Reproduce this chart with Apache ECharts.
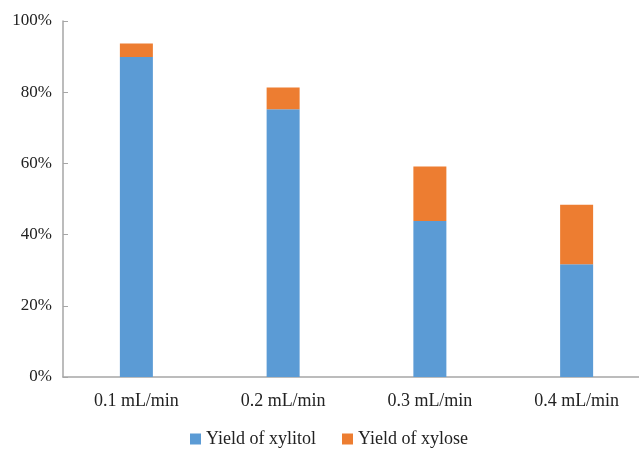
<!DOCTYPE html>
<html>
<head>
<meta charset="utf-8">
<script src="https://cdn.jsdelivr.net/npm/echarts@6/dist/echarts.min.js"></script>
<style>
  html, body { margin: 0; padding: 0; background: #fff; }
  #chart { width: 639px; height: 451px; }
</style>
</head>
<body>
<div id="chart"></div>
<script>
const categories = ["0.1 mL/min", "0.2 mL/min", "0.3 mL/min", "0.4 mL/min"];
const xylitolYield = [89.9, 75.2, 43.8, 31.7];
const xyloseYield = [3.8, 6.1, 15.3, 16.7];

const myChart = echarts.init(document.getElementById("chart"));
const font = "Liberation Serif";

const option = {
    animation: false,
    textStyle: {
        fontFamily: font
    },
    grid: {
        left: 63,
        width: 587,
        top: 21,
        bottom: 74,
        outerBoundsMode: "none"
    },
    legend: {
        top: 425,
        left: 185,
        itemWidth: 11,
        itemHeight: 11,
        itemGap: 26,
        icon: "rect",
        textStyle: {
            fontFamily: font,
            fontSize: 18,
            color: "#222"
        },
        data: ["Yield of xylitol", "Yield of xylose"]
    },
    xAxis: {
        type: "category",
        data: categories,
        axisLine: {
            lineStyle: { color: "#a6a6a6", width: 1.5 }
        },
        axisTick: { show: false },
        axisLabel: {
            margin: 15,
            fontSize: 18,
            color: "#222"
        }
    },
    yAxis: {
        type: "value",
        min: 0,
        max: 100,
        interval: 20,
        splitLine: { show: false },
        axisLine: {
            show: true,
            lineStyle: { color: "#a6a6a6", width: 1.5 }
        },
        axisTick: {
            show: true,
            inside: true,
            length: 5,
            lineStyle: { color: "#a6a6a6" }
        },
        axisLabel: {
            margin: 11,
            fontSize: 17,
            color: "#222",
            formatter: "{value}%"
        }
    },
    series: [
        {
            name: "Yield of xylitol",
            type: "bar",
            stack: "total",
            barWidth: 33,
            itemStyle: { color: "#5b9bd5" },
            data: xylitolYield
        },
        {
            name: "Yield of xylose",
            type: "bar",
            stack: "total",
            barWidth: 33,
            itemStyle: { color: "#ed7d31" },
            data: xyloseYield
        }
    ]
};

myChart.setOption(option);
</script>
</body>
</html>
